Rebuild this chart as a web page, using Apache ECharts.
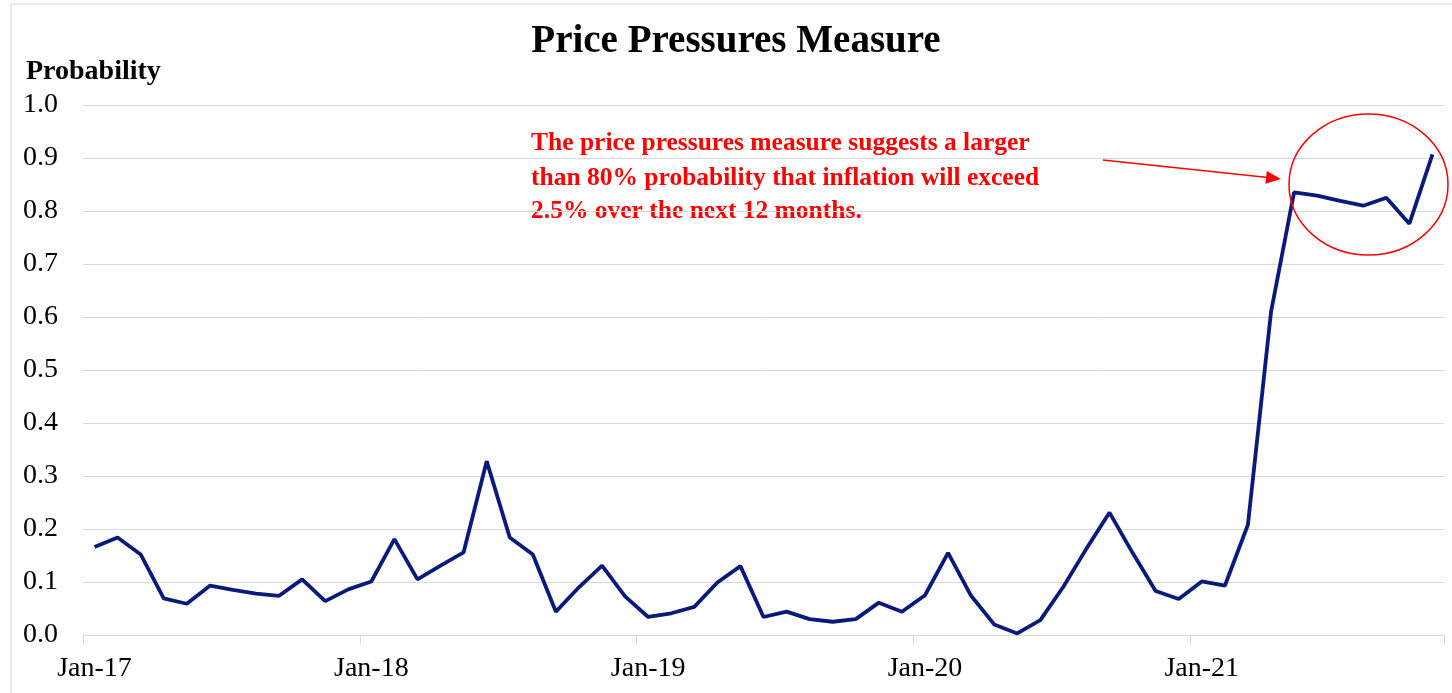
<!DOCTYPE html>
<html>
<head>
<meta charset="utf-8">
<style>
  html, body { margin: 0; padding: 0; background: #fff; }
  #chart { width: 1452px; height: 693px; }
</style>
<script src="https://cdn.jsdelivr.net/npm/echarts@6/dist/echarts.min.js"></script>
</head>
<body>
<div id="chart"></div>
<script>
// monthly categories, Jan-17 .. Nov-21
const months = [
    'Jan-17','Feb-17','Mar-17','Apr-17','May-17','Jun-17','Jul-17','Aug-17','Sep-17','Oct-17','Nov-17','Dec-17',
    'Jan-18','Feb-18','Mar-18','Apr-18','May-18','Jun-18','Jul-18','Aug-18','Sep-18','Oct-18','Nov-18','Dec-18',
    'Jan-19','Feb-19','Mar-19','Apr-19','May-19','Jun-19','Jul-19','Aug-19','Sep-19','Oct-19','Nov-19','Dec-19',
    'Jan-20','Feb-20','Mar-20','Apr-20','May-20','Jun-20','Jul-20','Aug-20','Sep-20','Oct-20','Nov-20','Dec-20',
    'Jan-21','Feb-21','Mar-21','Apr-21','May-21','Jun-21','Jul-21','Aug-21','Sep-21','Oct-21','Nov-21'
];
// probability values
const probability = [
    0.166, 0.184, 0.152, 0.069, 0.059, 0.093, 0.085, 0.078, 0.074, 0.105, 0.064, 0.086,
    0.101, 0.181, 0.105, 0.131, 0.156, 0.328, 0.184, 0.152, 0.044, 0.090, 0.131, 0.073,
    0.034, 0.041, 0.053, 0.099, 0.130, 0.034, 0.044, 0.030, 0.025, 0.030, 0.061, 0.044,
    0.075, 0.155, 0.074, 0.020, 0.003, 0.028, 0.091, 0.163, 0.231, 0.155, 0.083, 0.068,
    0.101, 0.093, 0.208, 0.609, 0.835, 0.829, 0.819, 0.810, 0.825, 0.776, 0.907
];
const noteLines = [
    'The price pressures measure suggests a larger',
    'than 80% probability that inflation will exceed',
    '2.5% over the next 12 months.'
];

const serif = "'Liberation Serif', 'Times New Roman', serif";
const gridColor = '#d9d9d9';
const red = '#ff0000';

// arrow head as a small triangle
function arrowHead(x1, y1, x2, y2, len, half) {
    let dx = x2 - x1, dy = y2 - y1;
    let d = Math.sqrt(dx * dx + dy * dy);
    dx /= d; dy /= d;
    let bx = x2 - dx * len, by = y2 - dy * len;
    return [[x2, y2], [bx - dy * half, by + dx * half], [bx + dy * half, by - dx * half]];
}

let chart = echarts.init(document.getElementById('chart'));
let head = arrowHead(1103, 160, 1281, 179, 15, 6.5);

function note(i, y) {
    return {
        type: 'text', x: 531, y: y,
        style: { text: noteLines[i], font: 'bold 25.5px ' + serif, fill: red, align: 'left', verticalAlign: 'middle' }
    };
}

let option = {
    animation: false,
    grid: { left: 83, right: 8, top: 105, bottom: 58 },
    xAxis: {
        type: 'category',
        data: months,
        boundaryGap: true,
        axisLine: { show: true, lineStyle: { color: gridColor, width: 1 } },
        axisTick: { show: true, interval: 11, length: 9, lineStyle: { color: gridColor } },
        axisLabel: { interval: 11, margin: 20, color: '#000', fontSize: 28, fontFamily: serif },
        splitLine: { show: false }
    },
    yAxis: {
        type: 'value',
        min: 0,
        max: 1,
        interval: 0.1,
        axisLine: { show: false },
        axisTick: { show: false },
        axisLabel: {
            margin: 25, color: '#000', fontSize: 28, fontFamily: serif,
            formatter: function(v) { return v.toFixed(1); }
        },
        splitLine: { lineStyle: { color: gridColor, width: 1 } }
    },
    series: [{
        type: 'line',
        data: probability,
        symbol: 'none',
        lineStyle: { color: '#0a1a7a', width: 3.8 },
        z: 3
    }],
    graphic: [
        {   // outer frame
            type: 'rect', silent: true,
            shape: { x: 11, y: 4, width: 1460, height: 700 },
            style: { fill: 'none', stroke: gridColor, lineWidth: 1 }
        },
        {
            type: 'text', x: 736, y: 42,
            style: { text: 'Price Pressures Measure', font: 'bold 39px ' + serif, fill: '#000', align: 'center', verticalAlign: 'middle' }
        },
        {
            type: 'text', x: 26, y: 72,
            style: { text: 'Probability', font: 'bold 28px ' + serif, fill: '#000', align: 'left', verticalAlign: 'middle' }
        },
        note(0, 143.5),
        note(1, 178.5),
        note(2, 211.5),
        {
            type: 'line',
            shape: { x1: 1103, y1: 160, x2: 1268, y2: 177.6 },
            style: { stroke: red, lineWidth: 1.5 }
        },
        {
            type: 'polygon',
            shape: { points: head },
            style: { fill: red }
        },
        {
            type: 'ellipse',
            shape: { cx: 1368.5, cy: 184.5, rx: 79.5, ry: 70.5 },
            style: { fill: 'none', stroke: red, lineWidth: 1.5 },
            z: 10
        }
    ]
};
chart.setOption(option);
</script>
</body>
</html>
